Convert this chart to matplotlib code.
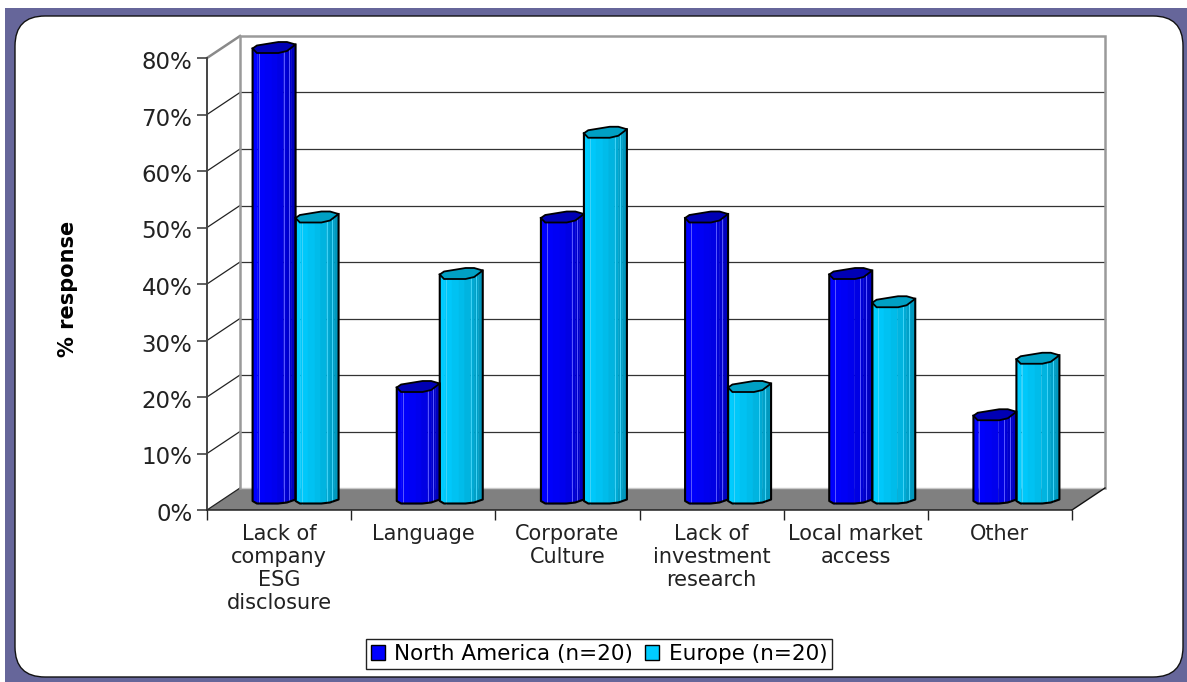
import matplotlib
matplotlib.use('Agg')
import numpy as np
from matplotlib import pyplot as plt
from matplotlib.patches import FancyBboxPatch, Patch, Polygon, Rectangle
from matplotlib.transforms import Affine2D, IdentityTransform

categories = ['Lack of\ncompany\nESG\ndisclosure', 'Language', 'Corporate\nCulture',
              'Lack of\ninvestment\nresearch', 'Local market\naccess', 'Other']
north_america = [80, 20, 50, 50, 40, 15]
europe = [50, 40, 65, 20, 35, 25]
y_ticks = [0, 10, 20, 30, 40, 50, 60, 70, 80]
series_names = ['North America (n=20)', 'Europe (n=20)']

W, H = 1187, 682
FRONT_L, FRONT_R, FRONT_B, FRONT_T = 207, 1072, 510, 58
px_x = (FRONT_R - FRONT_L) / 6
px_y = (FRONT_B - FRONT_T) / 80
DX = 33 / px_x
DY = 22 / px_y
BAR_W = 43 / px_x

NAVY_SHADES = ['#0000ff', '#0000fb', '#0000f5', '#0000ee', '#0000e4', '#0000d8', '#0000cc', '#0000c0']
NAVY_TOP = '#0000b4'
CYAN_SHADES = ['#00ccff', '#00c8fa', '#00c2f2', '#00bcea', '#00b4e0', '#00aad4', '#00a0c8', '#0098be']
CYAN_TOP = '#00a0c4'
STRIPS = [0, 0.12, 0.28, 0.44, 0.58, 0.72, 0.8, 0.9, 1]

fig = plt.figure(figsize=(W / 100, H / 100), dpi=100, facecolor='white')
px = IdentityTransform()
fig.add_artist(Rectangle((5, 0), W - 5, H - 8, transform=px, facecolor='#66669a', edgecolor='none', zorder=-3))
fig.add_artist(FancyBboxPatch((45, 35), 1108, 601, boxstyle='round,pad=30,rounding_size=30', transform=px,
                              facecolor='white', edgecolor='#111111', linewidth=1, zorder=-2))

ax = fig.add_axes([FRONT_L / W, 1 - FRONT_B / H, (FRONT_R - FRONT_L) / W, (FRONT_B - FRONT_T) / H])
ax.set_xlim(0, 6)
ax.set_ylim(0, 80)
ax.patch.set_visible(False)
for side in ['top', 'right']:
    ax.spines[side].set_visible(False)
ax.spines['left'].set_linewidth(1.4)
ax.spines['left'].set_color('#444444')
ax.spines['bottom'].set_linewidth(1.1)
ax.spines['bottom'].set_color('#222222')
ax.spines['left'].set_zorder(2)
ax.spines['bottom'].set_zorder(2)

# floor and walls
ax.add_patch(Polygon([(0, 0), (6, 0), (6 + DX, DY), (DX, DY)], facecolor='#808080', edgecolor='none',
                     clip_on=False, zorder=1))
ax.plot([6, 6 + DX], [0, DY], color='#111111', lw=1, clip_on=False, zorder=1.5)
for v in y_ticks[1:-1]:
    ax.plot([DX, 6 + DX], [v + DY, v + DY], color='#333333', lw=0.9, clip_on=False, zorder=1)
for v in y_ticks[:-1]:
    ax.plot([0, DX], [v, v + DY], color='#222222', lw=0.9, clip_on=False, zorder=1)
ax.plot([0, DX], [80, 80 + DY], color='#8a8a8a', lw=1.8, clip_on=False, zorder=1)
ax.plot([DX, DX, 6 + DX, 6 + DX], [DY, 80 + DY, 80 + DY, DY], color='#9a9a9a', lw=1.8, clip_on=False, zorder=1.2,
        solid_joinstyle='miter')
ax.plot([DX, 6 + DX], [DY, DY], color='#c8c8c8', lw=1, clip_on=False, zorder=1.1)

ARC_X = [0, 0.1, 0.6, 0.8, 1]
FRONT_ARC = [-1.5, -6, -6, -4, 2.5]
BACK_ARC = [-1.5, 1.5, 5, 5, 2.5]
BOTTOM_ARC = [-2, -4.5, -4.5, -3.5, -0.5]
LIGHT_AT = [0.14, 0.72, 0.85]


def draw_column(x0, value, shades, top_color, light):
    base = DY / 2
    to_x = lambda f: x0 + f * BAR_W + DX / 2
    low = lambda f: base + np.interp(f, ARC_X, BOTTOM_ARC) / px_y
    front = lambda f: base + value + np.interp(f, ARC_X, FRONT_ARC) / px_y
    back = lambda f: base + value + np.interp(f, ARC_X, BACK_ARC) / px_y
    for i, shade in enumerate(shades):
        a, b = STRIPS[i], STRIPS[i + 1]
        pts = [(to_x(a), low(a)), (to_x(b), low(b)), (to_x(b), front(b)), (to_x(a), front(a))]
        ax.add_patch(Polygon(pts, facecolor=shade, edgecolor=shade, lw=0.3, clip_on=False, zorder=3))
    for f in LIGHT_AT:
        ax.plot([to_x(f), to_x(f)], [low(f), front(f)], color=light, lw=0.7, clip_on=False, zorder=3.1)
    rim = [(to_x(f), back(f)) for f in ARC_X] + [(to_x(f), front(f)) for f in ARC_X[::-1]]
    ax.add_patch(Polygon(rim, facecolor=top_color, edgecolor='black', lw=1.3, clip_on=False, zorder=3.3))
    side = [(to_x(0), front(0))] + [(to_x(f), low(f)) for f in ARC_X] + [(to_x(1), front(1))]
    ax.plot(*zip(*side), color='black', lw=1.5, clip_on=False, zorder=3.2)


for i in range(len(categories)):
    draw_column(i + 0.5 - BAR_W, north_america[i], NAVY_SHADES, NAVY_TOP, '#5a5aff')
    draw_column(i + 0.5, europe[i], CYAN_SHADES, CYAN_TOP, '#40d4f8')

ax.set_yticks(y_ticks)
ax.set_yticklabels([f'{v}%' for v in y_ticks], fontsize=16.5, color='#222222')
ax.tick_params(axis='y', length=7, width=1.2, color='#444444', pad=3.5)
for label in ax.get_yticklabels():
    label.set_transform(label.get_transform() + Affine2D().translate(0, -2))
ax.set_xticks(range(7))
ax.set_xticklabels([])
ax.tick_params(axis='x', which='major', length=7, width=1, color='#222222')
ax.set_xticks([i + 0.5 for i in range(6)], minor=True)
ax.set_xticklabels(categories, minor=True, fontsize=15, color='#222222', linespacing=1.18)
ax.tick_params(axis='x', which='minor', length=0, pad=10)

fig.text(68 / W, 1 - 289 / H, '% response', rotation=90, ha='center', va='center', fontsize=15,
         fontweight='bold', color='black')

handles = [Patch(facecolor='#0000ff', edgecolor='black', label=series_names[0]),
           Patch(facecolor='#00ccff', edgecolor='black', label=series_names[1])]
leg = fig.legend(handles=handles, loc='center', bbox_to_anchor=(599 / W, 1 - 654 / H), ncol=2, fontsize=15.5,
                 frameon=True, fancybox=False, edgecolor='#222222', framealpha=1, handlelength=0.65,
                 handleheight=0.65, handletextpad=0.45, columnspacing=0.55, borderpad=0.22, borderaxespad=0)
leg.get_frame().set_linewidth(1)

fig.savefig('out.png', dpi=100)
